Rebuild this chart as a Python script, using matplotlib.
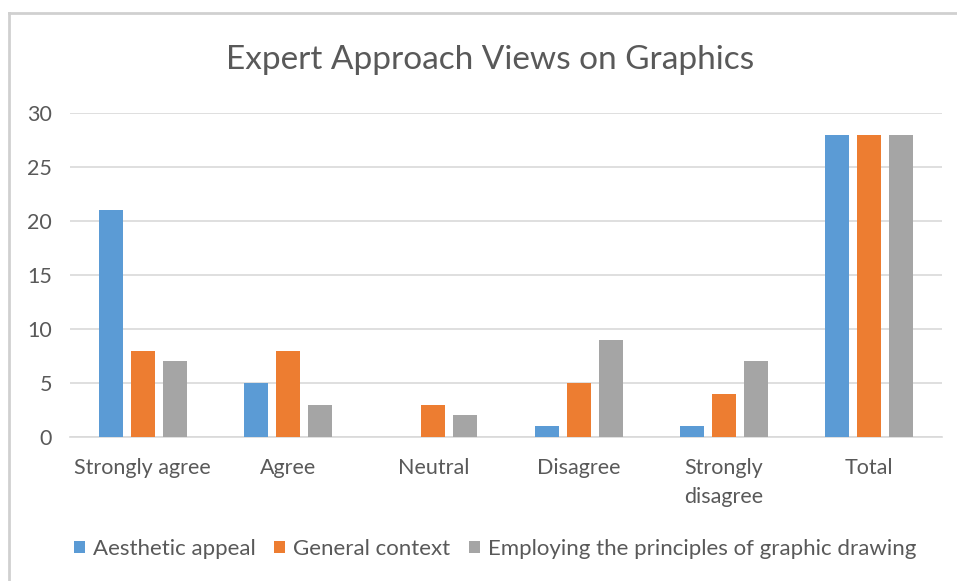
import matplotlib
matplotlib.use("Agg")
import matplotlib.pyplot as plt
from matplotlib.lines import Line2D
from matplotlib.patches import Patch
import numpy as np

categories = ["Strongly agree", "Agree", "Neutral", "Disagree", "Strongly\ndisagree", "Total"]
series_names = ["Aesthetic appeal", "General context", "Employing the principles of graphic drawing"]
aesthetic = [21, 5, 0, 1, 1, 28]
general = [8, 8, 3, 5, 4, 28]
principles = [7, 3, 2, 9, 7, 28]
y_ticks = [0, 5, 10, 15, 20, 25, 30]

colors = ["#5B9BD5", "#ED7D31", "#A5A5A5"]
text_color = "#595959"
grid_color = "#D9D9D9"

plt.rcParams["font.family"] = ["Lato", "DejaVu Sans"]

W, H = 957, 581
fig = plt.figure(figsize=(W / 100, H / 100), dpi=100)
ax = fig.add_axes([70 / W, 1 - 437 / H, (942 - 70) / W, (437 - 113) / H])

x = np.arange(len(categories))
bar_w = 0.165
step = 0.22
for i, (vals, name) in enumerate(zip([aesthetic, general, principles], series_names)):
    ax.bar(x + (i - 1) * step, vals, width=bar_w, color=colors[i], label=name, zorder=3)

ax.set_xlim(-0.5, len(categories) - 0.5)
ax.set_ylim(0, 30)
ax.set_yticks(y_ticks)
ax.set_xticks(x)
ax.set_xticklabels(categories, fontsize=15.5, color=text_color, linespacing=1.6)
ax.tick_params(axis="y", labelsize=15.5, labelcolor=text_color, length=0, pad=13)
ax.tick_params(axis="x", length=0, pad=15)
ax.grid(axis="y", color=grid_color, linewidth=1.2, zorder=0)
for s in ["top", "right", "left"]:
    ax.spines[s].set_visible(False)
ax.spines["bottom"].set_color(grid_color)
ax.spines["bottom"].set_linewidth(1.2)

fig.text(490 / W, 1 - 60 / H, "Expert Approach Views on Graphics",
         ha="center", va="center", fontsize=24, color=text_color)

handles = [Patch(facecolor=c, label=n) for c, n in zip(colors, series_names)]
fig.legend(handles=handles, loc="center", bbox_to_anchor=(495 / W, 1 - 549 / H),
           ncol=3, frameon=False, fontsize=16, labelcolor=text_color,
           handlelength=0.5, handleheight=0.5, handletextpad=0.35, columnspacing=0.85)

# chart-area border
fig.add_artist(Line2D([9 / W, 9 / W], [0, 1 - 13 / H], transform=fig.transFigure,
                      color="#D0D0D0", linewidth=2))
fig.add_artist(Line2D([9 / W, 1], [1 - 13 / H, 1 - 13 / H], transform=fig.transFigure,
                      color="#D0D0D0", linewidth=2))

fig.savefig("out.png", dpi=100, facecolor="white")
